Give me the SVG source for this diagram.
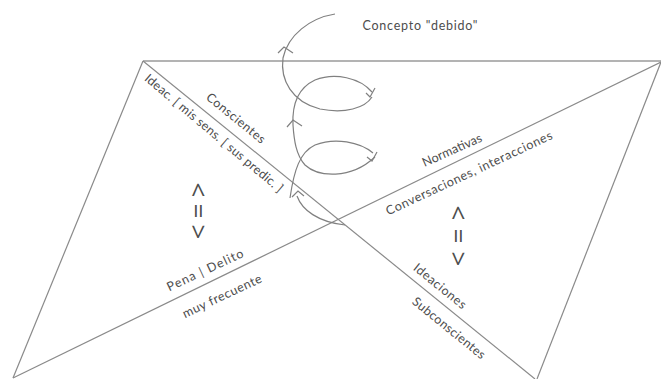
<svg xmlns="http://www.w3.org/2000/svg" width="661" height="379" viewBox="0 0 661 379">
<style>
.ln{fill:none;stroke:#8a8a8a;stroke-width:1.2}
.sp{fill:none;stroke:#808080;stroke-width:1.2}
.t{font-family:Lato,"Open Sans","Liberation Sans",sans-serif;font-size:12.5px;fill:#4d4d4d;text-anchor:middle}
.eq{font-family:"Open Sans","Liberation Sans",sans-serif;font-size:26px;fill:#4d4d4d;text-anchor:middle}
</style>
<rect width="661" height="379" fill="#fff"/>
<g id="connectors">
<path class="ln" d="M143,61 L661,61" style="stroke:#9a9a9a;stroke-width:1.6"/>
<path class="ln" d="M143,61 L13,378"/>
<path class="ln" d="M13,378 L661,62"/>
<path class="ln" d="M143,61 L535,379"/>
<path class="ln" d="M661,62 L537,379"/>
</g>
<g id="spiral">
<path class="sp" d="M335,14 C310,18 288,35 283,58 C280,80 292,102 320,109 C345,114 365,108 372,97"/>
<path class="sp" d="M372,92 C360,78 335,72 315,80 C298,88 292,105 293,125 C294,140 296,155 305,165 C318,177 350,180 375,157"/>
<path class="sp" d="M373,153 C360,142 335,137 315,145 C300,152 294,170 290,198"/>
<path class="sp" d="M297,196 C302,210 318,222 345,225"/>
<path class="sp" d="M278,53 L284,47 L293,53"/>
<path class="sp" d="M287,127 L293,120 L302,126"/>
<path class="sp" d="M292,197 L298,191 L304,196"/>
<path class="sp" d="M366,93 L370,97 L375,88"/>
<path class="sp" d="M367,157 L372,161 L377,152"/>
</g>
<g id="concepto"><text class="t" x="420" y="30" textLength="115">Concepto "debido"</text></g>
<g id="conscientes"><text class="t" transform="translate(236,118) rotate(39)" dy="0.35em" textLength="72">Conscientes</text></g>
<g id="ideac"><text class="t" transform="translate(214,133) rotate(40)" dy="0.35em" textLength="176">Ideac. [ mis sens. [ sus predic. ]</text></g>
<g id="normativas"><text class="t" transform="translate(452,150) rotate(-24)" dy="0.35em" textLength="64">Normativas</text></g>
<g id="conversaciones"><text class="t" transform="translate(469,173) rotate(-25)" dy="0.35em" textLength="182">Conversaciones,  interacciones</text></g>
<g id="pena"><text class="t" transform="translate(205,270) rotate(-25)" dy="0.35em" textLength="83">Pena |  Delito</text></g>
<g id="frecuente"><text class="t" transform="translate(222,296) rotate(-25)" dy="0.35em" textLength="86">muy frecuente</text></g>
<g id="ideaciones"><text class="t" transform="translate(440,286) rotate(39)" dy="0.35em" textLength="64">Ideaciones</text></g>
<g id="subconscientes"><text class="t" transform="translate(449,328) rotate(39)" dy="0.35em" textLength="90">Subconscientes</text></g>
<g id="equiv-left"><text class="eq" transform="translate(198,211) rotate(90)" y="9"><tspan x="-21">&lt;</tspan><tspan x="0">=</tspan><tspan x="21">&gt;</tspan></text></g>
<g id="equiv-right"><text class="eq" transform="translate(458,236) rotate(90)" y="9"><tspan x="-23">&lt;</tspan><tspan x="0">=</tspan><tspan x="23">&gt;</tspan></text></g>
</svg>
